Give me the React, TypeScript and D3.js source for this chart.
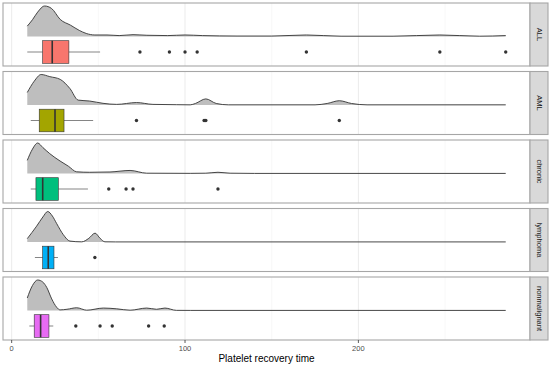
import React from 'react';
import * as d3 from 'd3';

// facet categories (top to bottom)
const categories = ['ALL', 'AML', 'chronic', 'lymphoma', 'nonmalignant'];
const boxColors = ['#F8766D', '#A3A500', '#00BF7D', '#00B0F6', '#E76BF3'];

// boxplot statistics
const whiskerLow = [9, 11, 11, 13.4, 10.2];
const q1 = [17.9, 15.9, 14, 17.9, 13];
const median = [23.4, 25, 17.9, 21.1, 16.7];
const q3 = [33, 30.2, 26.9, 24.4, 21.5];
const whiskerHigh = [51, 47, 44, 26.7, 24];

const outliers = [
  [74, 91, 100, 107, 170, 247, 285],
  [72, 111, 112, 189],
  [56, 66, 70, 119],
  [48],
  [37, 51, 58, 79, 88],
];

// density curves (relative height)
const densityALL: [number, number][] = [
  [9, 0.34], [12, 0.55], [15, 0.8], [19, 1], [23, 0.92], [28, 0.56], [34, 0.37],
  [39, 0.2], [43, 0.1], [48, 0.05], [55, 0.05], [62, 0.03], [70, 0.06], [78, 0.04],
  [90, 0.03], [100, 0.05], [110, 0.03], [130, 0.015], [150, 0.015], [170, 0.05],
  [190, 0.01], [220, 0.01], [247, 0.05], [270, 0.01], [285, 0.03],
];
const densityAML: [number, number][] = [
  [9, 0.41], [13, 0.78], [17, 1], [22, 0.93], [28, 0.84], [33.6, 0.54], [38.4, 0.16],
  [45, 0.13], [52.7, 0.055], [60.6, 0.02], [72, 0.08], [81.5, 0.02], [95, 0.01],
  [103, 0.005], [106, 0.05], [112, 0.2], [118, 0.05], [125, 0.005], [175, 0.005],
  [182, 0.05], [189, 0.14], [196, 0.05], [205, 0.005], [285, 0.005],
];
const densityChronic: [number, number][] = [
  [9, 0.43], [12, 0.8], [15, 1], [18, 0.85], [22, 0.65], [27.9, 0.41], [32.7, 0.24],
  [37.5, 0.055], [45, 0.04], [56.7, 0.05], [68.3, 0.1], [77.9, 0.01], [103, 0.005],
  [112, 0.01], [119, 0.04], [126, 0.01], [140, 0.003], [285, 0.003],
];
const densityLymphoma: [number, number][] = [
  [9, 0.11], [14.4, 0.52], [18, 0.82], [20.8, 1], [23.5, 0.85], [26, 0.6], [29.8, 0.24],
  [33.6, 0.03], [40.4, 0.005], [44.5, 0.12], [48.1, 0.29], [51, 0.12], [53.8, 0.006],
  [60, 0.003], [285, 0.003],
];
const densityNonmalignant: [number, number][] = [
  [9, 0.41], [12, 0.82], [15, 1], [18, 0.93], [20.2, 0.76], [23.1, 0.38], [25.9, 0.11],
  [27.9, 0.02], [31.9, 0.04], [37.5, 0.09], [43.3, 0.01], [52.9, 0.08], [60.6, 0.055],
  [68.3, 0.01], [77.9, 0.08], [83.6, 0.04], [88.4, 0.08], [95, 0.005], [103, 0.003],
  [285, 0.003],
];
const densities = [densityALL, densityAML, densityChronic, densityLymphoma, densityNonmalignant];

const majorTicks = [0, 100, 200];
const minorTicks = [50, 150, 250];
const xTitle = 'Platelet recovery time';

const W = 550;
const H = 367;
const panelLeft = 3;
const panelRight = 530;
const panelTop0 = 3;
const panelStep = 68.5;
const panelH = 63;
const stripW = 18;
const font = 'Liberation Sans, Arial, Helvetica, sans-serif';

export default function App() {
  const x = d3.scaleLinear().domain([-5, 299]).range([panelLeft, panelRight]);
  const bottom = panelTop0 + panelStep * 4 + panelH;

  return (
    <svg width={W} height={H} style={{ position: 'absolute', left: 0, top: 0, fontFamily: font }}>
      <rect width={W} height={H} fill="#fff" />
      {categories.map((cat, i) => {
        const top = panelTop0 + i * panelStep;
        const dens = densities[i];
        const maxD = d3.max(dens, (d) => d[1]) as number;
        const y = d3.scaleLinear().domain([0, maxD]).range([top + 33.5, top + 3]);
        const area = d3
          .area<[number, number]>()
          .x((d) => x(d[0]))
          .y0(y(0))
          .y1((d) => y(d[1]))
          .curve(d3.curveMonotoneX);
        const line = d3
          .line<[number, number]>()
          .x((d) => x(d[0]))
          .y((d) => y(d[1]))
          .curve(d3.curveMonotoneX);
        const cy = top + 49;
        const bh = 11.3;
        return (
          <g key={cat}>
            <rect x={panelLeft} y={top} width={panelRight - panelLeft} height={panelH} fill="#fff" />
            {minorTicks.map((t) => (
              <line key={'m' + t} x1={x(t)} x2={x(t)} y1={top} y2={top + panelH} stroke="#F2F2F2" strokeWidth={0.6} />
            ))}
            {majorTicks.map((t) => (
              <line key={'M' + t} x1={x(t)} x2={x(t)} y1={top} y2={top + panelH} stroke="#EBEBEB" strokeWidth={1} />
            ))}
            <path d={area(dens) || ''} fill="#BEBEBE" />
            <path d={line(dens) || ''} fill="none" stroke="#333" strokeWidth={0.9} />
            {/* whiskers */}
            <line x1={x(whiskerLow[i])} x2={x(q1[i])} y1={cy} y2={cy} stroke="#333" strokeWidth={0.6} />
            <line x1={x(q3[i])} x2={x(whiskerHigh[i])} y1={cy} y2={cy} stroke="#333" strokeWidth={0.6} />
            <rect
              x={x(q1[i])}
              y={cy - bh}
              width={x(q3[i]) - x(q1[i])}
              height={bh * 2}
              fill={boxColors[i]}
              stroke="#333"
              strokeWidth={0.6}
            />
            <line x1={x(median[i])} x2={x(median[i])} y1={cy - bh} y2={cy + bh} stroke="#333" strokeWidth={1.6} />
            {outliers[i].map((o, j) => (
              <circle key={j} cx={x(o)} cy={cy} r={1.7} fill="#333" />
            ))}
            <rect
              x={panelLeft}
              y={top}
              width={panelRight - panelLeft}
              height={panelH}
              fill="none"
              stroke="#A6A6A6"
              strokeWidth={1.1}
            />
            <rect x={panelRight} y={top} width={stripW} height={panelH} fill="#D9D9D9" stroke="#A6A6A6" strokeWidth={1.1} />
            <text
              transform={`translate(${panelRight + stripW / 2},${top + panelH / 2}) rotate(90)`}
              textAnchor="middle"
              dominantBaseline="central"
              fontFamily={font}
              fontSize={7.5}
              fill="#1A1A1A"
            >
              {cat}
            </text>
          </g>
        );
      })}
      {majorTicks.map((t) => (
        <g key={t}>
          <line x1={x(t)} x2={x(t)} y1={bottom} y2={bottom + 3} stroke="#333" strokeWidth={0.8} />
          <text x={x(t)} y={bottom + 11} textAnchor="middle" fontFamily={font} fontSize={7.5} fill="#4D4D4D">
            {t}
          </text>
        </g>
      ))}
      <text
        x={(panelLeft + panelRight) / 2}
        y={bottom + 22}
        textAnchor="middle"
        fontFamily={font}
        fontSize={10}
        fill="#000"
      >
        {xTitle}
      </text>
    </svg>
  );
}
